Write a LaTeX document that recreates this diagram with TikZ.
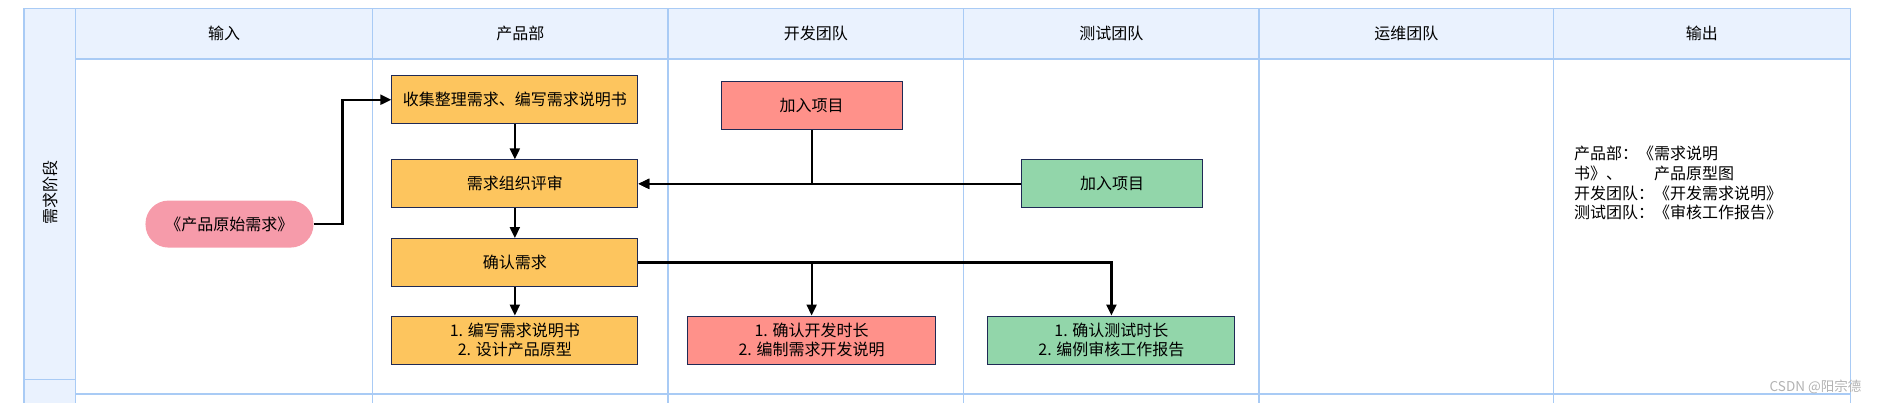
\documentclass[tikz,border=0pt]{standalone}
\usepackage{fontspec}
\newfontfamily\cjk{Noto Sans CJK SC}
\usetikzlibrary{arrows.meta,positioning}
\tikzset{>={Triangle[width=10pt,length=11pt]}}
\definecolor{laneline}{HTML}{A9CBF5}
\definecolor{lanefill}{HTML}{EAF2FE}
\definecolor{boxline}{HTML}{1F2A55}
\definecolor{prodfill}{HTML}{FDC55E}
\definecolor{devfill}{HTML}{FF918A}
\definecolor{testfill}{HTML}{92D6AA}
\definecolor{srcfill}{HTML}{F69BAA}

\begin{document}
\begin{tikzpicture}[x=1.2015pt,y=-1.2015pt,font=\cjk\fontsize{16}{19.6}\selectfont]
      \tikzstyle{lane} = [draw=laneline, line width=1.5pt]
      \tikzstyle{bnode} = [draw=boxline, line width=1pt, rectangle, minimum height=48pt, inner sep=2pt, align=center]
      \tikzstyle{flow} = [->, line width=2.2pt]

      \useasboundingbox (0,0) rectangle (1568,335.4);

      % swimlane frame
      \fill[lanefill] (20,7) rectangle (1540,49);
      \fill[lanefill] (20,49) rectangle (63,335.4);
      \foreach \x in {63,310,556,802,1048,1293,1540}
        \draw[lane] (\x,7) -- (\x,335.4);
      \draw[lane] (20,7) -- (20,335.4);
      \draw[lane] (20,7) -- (1540,7);
      \draw[lane] (63,49) -- (1540,49);
      \draw[lane] (63,328) -- (1540,328);
      \draw[lane] (20,316) -- (63,316);

      % headers
      \node (h1) at (186.5,28) {输入};
      \node (h2) at (433,28) {产品部};
      \node (h3) at (679,28) {开发团队};
      \node (h4) at (925,28) {测试团队};
      \node (h5) at (1170.5,28) {运维团队};
      \node (h6) at (1416.5,28) {输出};
      \node[rotate=90] (stage) at (42,160) {需求阶段};

      % input lane
      \node[fill=srcfill, rounded corners=23pt, minimum width=168pt, minimum height=47pt] (src) at (191,186.5) {《产品原始需求》};

      % product lane
      \node[bnode, fill=prodfill, minimum width=246pt] (p1) at (428.5,83) {收集整理需求、编写需求说明书};
      \node[bnode, fill=prodfill, minimum width=246pt] (p2) at (428.5,153) {需求组织评审};
      \node[bnode, fill=prodfill, minimum width=246pt] (p3) at (428.5,218.5) {确认需求};
      \node[bnode, fill=prodfill, minimum width=246pt] (p4) at (428.5,283) {1. 编写需求说明书\\2. 设计产品原型};

      % dev lane
      \node[bnode, fill=devfill, minimum width=181pt] (d1) at (675.5,88) {加入项目};
      \node[bnode, fill=devfill, minimum width=248pt] (d2) at (675.5,283) {1. 确认开发时长\\2. 编制需求开发说明};

      % test lane
      \node[bnode, fill=testfill, minimum width=181pt] (t1) at (925.5,153) {加入项目};
      \node[bnode, fill=testfill, minimum width=247pt] (t2) at (925,283) {1. 确认测试时长\\2. 编例审核工作报告};

      % output lane
      \node[anchor=west, align=left, inner sep=0pt] (out) at (1310,152.5) {产品部：《需求说明\\书》、\hspace{2em}产品原型图\\开发团队：《开发需求说明》\\测试团队：《审核工作报告》};

      \node[text=black!30, font=\cjk\fontsize{13.5}{16}\selectfont] (mark) at (1511,322) {CSDN @阳宗德};

      % edges
      \draw[flow] (src.east) -- ++(24,0) |- (p1.west);
      \draw[flow] (p1.south) -- (p2.north);
      \draw[flow] (p2.south) -- (p3.north);
      \draw[flow] (p3.south) -- (p4.north);

      \draw[flow] (d1.south) |- (p2.east);
      \draw[flow] (t1.west) -- (p2.east);

      \draw[flow] (p3.east) -| (d2.north);
      \draw[flow] (p3.east) -| (t2.north);
\end{tikzpicture}
\end{document}
